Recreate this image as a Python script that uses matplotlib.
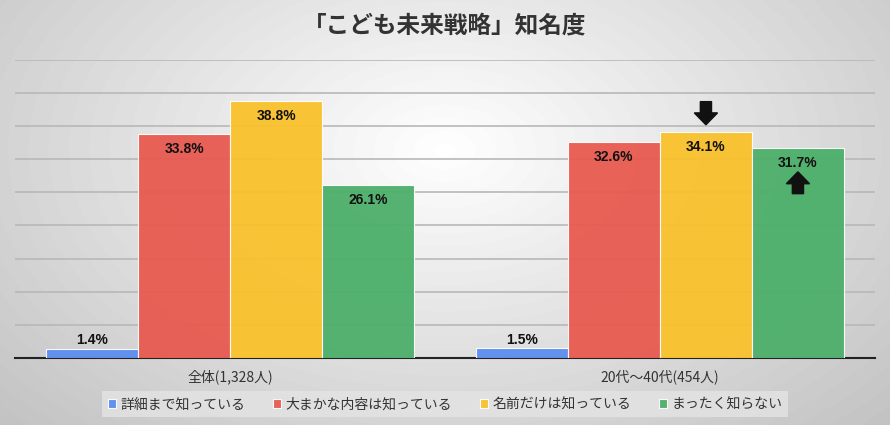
import numpy as np
import matplotlib
matplotlib.use("Agg")
import matplotlib.pyplot as plt

plt.rcParams['font.family'] = ['Noto Sans CJK JP', 'DejaVu Sans']

title = "「こども未来戦略」知名度"
categories = ["全体(1,328人)", "20代～40代(454人)"]
series_names = ["詳細まで知っている", "大まかな内容は知っている", "名前だけは知っている", "まったく知らない"]
values = [
    [1.4, 1.5],
    [33.8, 32.6],
    [38.8, 34.1],
    [26.1, 31.7],
]
colors = ["#5b8def", "#e85a50", "#fac12c", "#4caf6a"]

fig = plt.figure(figsize=(8.9, 4.25), dpi=100)

# radial gradient background
bg = fig.add_axes([0, 0, 1, 1], zorder=-10)
yy, xx = np.mgrid[0:425, 0:890]
d = np.sqrt(((xx - 445) / 520.0) ** 2 + ((yy - 150) / 330.0) ** 2)
shade = np.clip(1.0 - 0.2 * d, 0.74, 1.0)
bg.imshow(shade, cmap="gray", vmin=0, vmax=1, aspect="auto", extent=[0, 1, 0, 1])
bg.axis("off")

ax = fig.add_axes([0.017, 0.158, 0.966, 0.701])
ax.patch.set_alpha(0)
x = np.arange(len(categories))
width = 0.214
for i, (name, vals) in enumerate(zip(series_names, values)):
    pos = x + (i - 1.5) * width
    ax.bar(pos, vals, width, color=colors[i], edgecolor="white", linewidth=0.8,
           label=name, zorder=3, alpha=0.95)
    for p, v in zip(pos, vals):
        if v > 5:
            ax.text(p, v - 1.2, f"{v}%", ha="center", va="top", fontsize=10,
                    fontweight="bold", color="#111111", family="Liberation Sans", zorder=5)
        else:
            ax.text(p, v + 0.2, f"{v}%", ha="center", va="bottom", fontsize=10,
                    fontweight="bold", color="#111111", family="Liberation Sans", zorder=5)

# arrows on the second group
p_down = x[1] + 0.5 * width
ax.arrow(p_down, values[2][1] + 4.6, 0, -3.5, width=0.026, head_width=0.054,
         head_length=1.8, length_includes_head=True, color="#111111", zorder=6)
p_up = x[1] + 1.5 * width
ax.arrow(p_up, values[3][1] - 6.9, 0, 3.3, width=0.026, head_width=0.054,
         head_length=1.8, length_includes_head=True, color="#111111", zorder=6)

ax.set_ylim(0, 45)
ax.set_xlim(-0.5, 1.5)
ax.set_yticks(np.arange(5, 46, 5))
ax.yaxis.grid(True, color="#b8b8b8", linewidth=1.2, zorder=0)
ax.tick_params(axis="y", left=False, labelleft=False)
ax.tick_params(axis="x", length=0, pad=8, labelsize=10, labelcolor="#333333")
ax.set_xticks(x)
ax.set_xticklabels(categories)
for s in ["top", "right", "left"]:
    ax.spines[s].set_visible(False)
ax.spines["bottom"].set_color("#222222")
ax.spines["bottom"].set_linewidth(1.5)

fig.text(0.5, 0.94, title, ha="center", va="center", fontsize=17,
         fontweight="bold", color="#333333")

leg = fig.legend(loc="center", bbox_to_anchor=(0.5, 0.049), ncol=4, fontsize=10,
                 frameon=True, fancybox=False, handlelength=0.6, handleheight=0.6,
                 handletextpad=0.3, columnspacing=2.0, borderpad=0.45)
leg.get_frame().set_facecolor("#e4e4e4")
leg.get_frame().set_edgecolor("none")
for t in leg.get_texts():
    t.set_color("#333333")

fig.savefig("out.png", dpi=100)
